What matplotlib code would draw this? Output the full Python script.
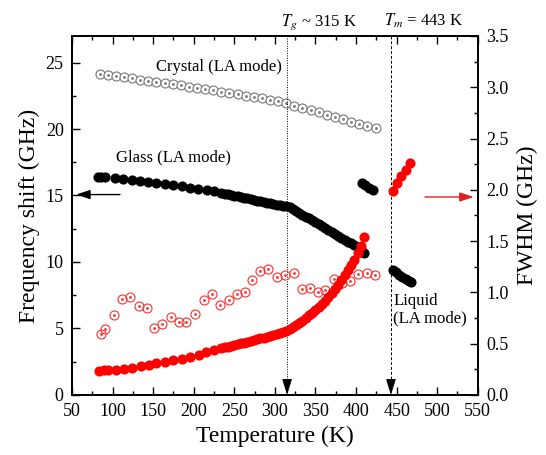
import numpy as np
import matplotlib
matplotlib.use('Agg')
import matplotlib.pyplot as plt
from matplotlib.ticker import MultipleLocator

plt.rcParams['font.family'] = ['Liberation Serif', 'DejaVu Serif']
plt.rcParams['mathtext.fontset'] = 'stix'

# crystal, LA mode frequency shift (left axis)
T_cryst = [84, 94, 104, 114, 124, 134, 144, 154, 164, 174, 184, 194, 204, 214,
           224, 234, 244, 254, 264, 274, 284, 294, 304, 314, 324, 334, 344, 354,
           364, 374, 384, 394, 404, 414, 424]
F_cryst = [24.15, 24.05, 23.98, 23.90, 23.80, 23.72, 23.62, 23.55, 23.45, 23.35,
           23.28, 23.18, 23.08, 23.00, 22.90, 22.80, 22.72, 22.62, 22.52, 22.42,
           22.32, 22.20, 22.08, 21.95, 21.75, 21.58, 21.42, 21.25, 21.08, 20.90,
           20.72, 20.55, 20.38, 20.22, 20.05]

# glass, LA mode frequency shift (left axis)
T_glass = [82, 86, 91, 103, 113, 124, 134, 144, 154, 165, 175, 185, 195, 205, 216,
           225, 234, 238, 242, 246, 250, 254, 258, 262, 266, 270, 274, 278, 282,
           286, 290, 294, 298, 302, 306, 310, 314, 318, 322, 326, 330, 334, 338,
           342, 346, 350, 354, 358, 362, 366, 370, 374, 378, 382, 386, 390, 394,
           398, 402, 406, 410]
F_glass = [16.40, 16.40, 16.36, 16.28, 16.22, 16.16, 16.08, 16.02, 15.94, 15.85,
           15.77, 15.69, 15.59, 15.52, 15.41, 15.32, 15.19, 15.14, 15.09, 15.04,
           14.99, 14.94, 14.89, 14.83, 14.78, 14.72, 14.67, 14.61, 14.56, 14.50,
           14.45, 14.40, 14.36, 14.32, 14.28, 14.24, 14.20, 14.13, 14.00, 13.86,
           13.71, 13.57, 13.42, 13.28, 13.13, 12.99, 12.84, 12.70, 12.55, 12.41,
           12.26, 12.12, 11.97, 11.83, 11.68, 11.54, 11.39, 11.25, 11.10, 10.95,
           10.65]

# black points above the glass near 410 K and liquid (left axis)
T_mid = [407, 411, 416, 421]
F_mid = [15.95, 15.80, 15.60, 15.42]
T_liq = [445, 449, 453, 457, 461, 465, 468]
F_liq = [9.40, 9.22, 9.05, 8.90, 8.75, 8.60, 8.47]

# FWHM glass / liquid (right axis)
T_wg = [83, 89, 94, 104, 114, 124, 135, 145, 154, 165, 175, 185, 195, 206, 215,
        225, 234, 238, 242, 246, 250, 254, 258, 262, 266, 270, 274, 278, 282,
        286, 290, 294, 298, 302, 306, 310, 314, 318, 322, 326, 330, 334, 338,
        342, 346, 350, 354, 358, 362, 366, 370, 374, 378, 382, 386, 390, 394,
        398, 402, 406, 410]
W_wg = [0.233, 0.240, 0.243, 0.246, 0.256, 0.266, 0.279, 0.292, 0.308, 0.321,
        0.337, 0.353, 0.373, 0.392, 0.415, 0.435, 0.460, 0.465, 0.472, 0.480,
        0.487, 0.495, 0.502, 0.510, 0.518, 0.527, 0.535, 0.543, 0.552, 0.560,
        0.568, 0.577, 0.585, 0.594, 0.603, 0.613, 0.625, 0.645, 0.665, 0.685,
        0.705, 0.725, 0.750, 0.775, 0.800, 0.825, 0.855, 0.885, 0.915, 0.950,
        0.990, 1.030, 1.075, 1.120, 1.165, 1.215, 1.265, 1.320, 1.380, 1.450,
        1.540]
T_wl = [446, 451, 456, 461, 466]
W_wl = [1.99, 2.065, 2.135, 2.195, 2.265]

# FWHM crystal (right axis)
T_wc = [86, 91, 102, 111, 121, 132, 142, 151, 161, 172, 182, 191, 202, 212, 222,
        232, 243, 253, 263, 272, 282, 292, 303, 312, 323, 333, 343, 353, 362,
        373, 383, 393, 403, 413, 423]
W_wc = [0.590, 0.639, 0.778, 0.931, 0.950, 0.866, 0.850, 0.655, 0.690, 0.762,
        0.713, 0.713, 0.788, 0.924, 0.980, 0.875, 0.924, 0.980, 1.005, 1.125,
        1.210, 1.223, 1.145, 1.167, 1.190, 1.028, 1.044, 0.999, 1.021, 1.128,
        1.096, 1.112, 1.177, 1.193, 1.167]

Tg = 315
Tm = 443

fig = plt.figure(figsize=(5.46, 4.55), dpi=100)
ax = fig.add_axes([0.132, 0.132, 0.743, 0.789])
ax2 = ax.twinx()

ax.plot(T_cryst, F_cryst, 'o', ms=6.5, mfc='white', mec='#777777', mew=0.8)
ax.plot(T_cryst, F_cryst, 'o', ms=1, color='#777777')
ax.plot(T_glass, F_glass, 'o', ms=7.3, color='black', mew=0)
ax.plot(T_mid, F_mid, 'o', ms=7.3, color='black', mew=0)
ax.plot(T_liq, F_liq, 'o', ms=7.3, color='black', mew=0)

ax2.plot(T_wc, W_wc, 'o', ms=6.5, mfc='none', mec='#ff3030', mew=0.8)
ax2.plot(T_wc, W_wc, 'o', ms=1, color='#ff3030')
ax2.plot(T_wg, W_wg, 'o', ms=7.3, color='red', mew=0)
ax2.plot(T_wl, W_wl, 'o', ms=7.3, color='red', mew=0)

ax.set_xlim(50, 550)
ax.set_ylim(0, 27)
ax2.set_ylim(0, 3.5)

# Tg and Tm markers
ax.plot([Tg, Tg], [0.8, 27], ls=(0, (1, 1.5)), color='k', lw=0.7)
ax.plot([Tm, Tm], [0.8, 27], ls=(0, (3, 2)), color='k', lw=0.7)
for t in (Tg, Tm):
    ax.annotate('', xy=(t, 0), xytext=(t, 1.0),
                arrowprops=dict(arrowstyle='-|>,head_length=0.55,head_width=0.17',
                                color='k', lw=0.7, mutation_scale=18,
                                shrinkA=0, shrinkB=0))

tr = ax.get_xaxis_transform()
ax.text(308, 1.03, r'$T_g$ ~ 315 K', transform=tr, fontsize=12, va='baseline')
ax.text(435, 1.03, r'$T_m$ = 443 K', transform=tr, fontsize=12, va='baseline')

ax.text(153, 24.65, 'Crystal (LA mode)', fontsize=12, va='center')
ax.text(104, 17.85, 'Glass (LA mode)', fontsize=12, va='center')
ax.text(446, 7.7, 'Liquid\n(LA mode)', fontsize=12, va='top', linespacing=1.15)

ax.annotate('', xy=(55, 15.07), xytext=(109, 15.07),
            arrowprops=dict(arrowstyle='-|>,head_length=0.6,head_width=0.2',
                            color='k', lw=1.0, mutation_scale=14,
                            shrinkA=0, shrinkB=0))
ax2.annotate('', xy=(545, 1.93), xytext=(485, 1.93),
             arrowprops=dict(arrowstyle='-|>,head_length=0.6,head_width=0.2',
                             color='#e02020', lw=1.0, mutation_scale=14,
                             shrinkA=0, shrinkB=0))

ax.set_xlabel('Temperature (K)', fontsize=17, labelpad=4)
ax.set_ylabel('Frequency shift (GHz)', fontsize=17, labelpad=4)
ax2.set_ylabel('FWHM (GHz)', fontsize=17, labelpad=6)

ax.xaxis.set_major_locator(MultipleLocator(50))
ax.xaxis.set_minor_locator(MultipleLocator(25))
ax.yaxis.set_major_locator(MultipleLocator(5))
ax.yaxis.set_minor_locator(MultipleLocator(2.5))
ax2.yaxis.set_major_locator(MultipleLocator(0.5))
ax2.yaxis.set_minor_locator(MultipleLocator(0.25))
ax2.set_yticks(np.arange(0, 3.51, 0.5))
ax2.set_yticklabels(['%.1f' % v for v in np.arange(0, 3.51, 0.5)])

ax.tick_params(which='both', direction='in', top=True, right=False, labelsize=13, width=1.0)
ax.tick_params(which='major', length=6, pad=6)
ax.tick_params(which='minor', length=3)
ax2.tick_params(which='both', direction='in', labelsize=13, width=1.0)
ax2.tick_params(which='major', length=6, pad=6)
ax2.tick_params(which='minor', length=3)

for a in (ax, ax2):
    for s in a.spines.values():
        s.set_linewidth(1.3)

fig.savefig('out.png', dpi=100)
